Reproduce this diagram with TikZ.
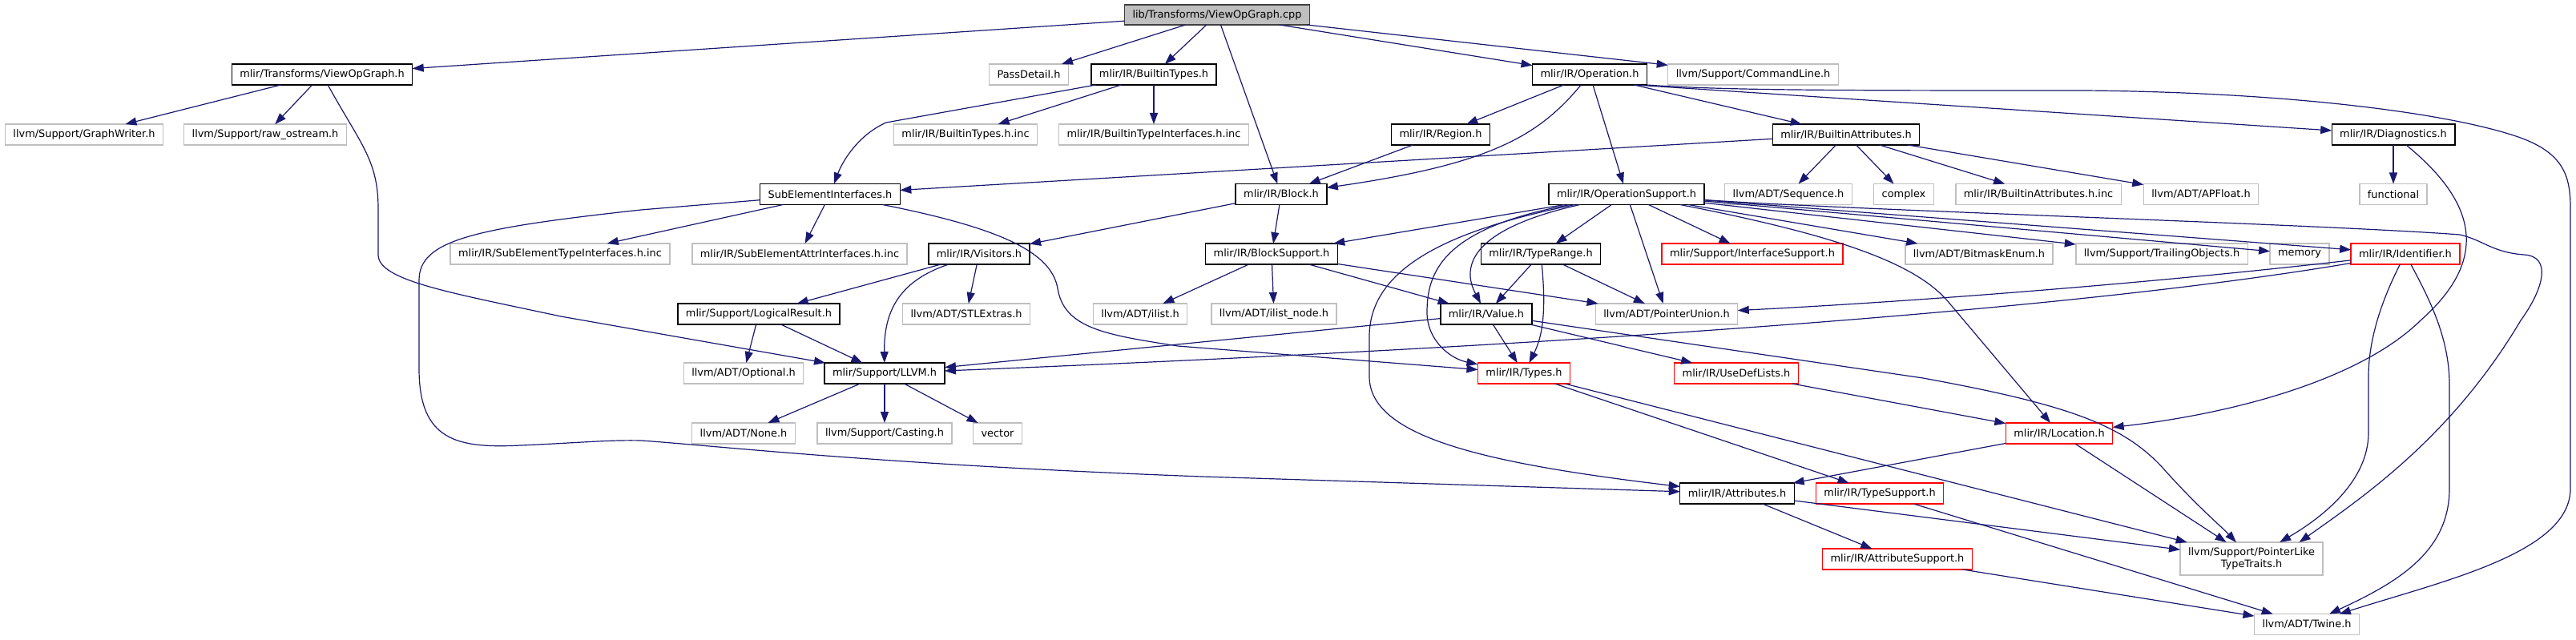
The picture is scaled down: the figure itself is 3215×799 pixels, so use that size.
\documentclass[tikz,border=0pt]{standalone}
\usepackage{fontspec}
\setmainfont{DejaVu Sans}
\usetikzlibrary{arrows.meta}
\definecolor{edgeblue}{HTML}{191970}
\definecolor{extgray}{HTML}{BFBFBF}

\begin{document}
\begin{tikzpicture}[
    x=1pt, y=-1pt,
    every node/.style={font=\fontsize{12.9pt}{15pt}\selectfont, align=center},
    hdr/.style={rectangle, draw=black, line width=1.4pt, fill=white, minimum height=26pt, inner xsep=10pt, inner ysep=0pt, outer sep=0pt},
    doc/.style={hdr},
    ext/.style={hdr, draw=extgray},
    trunc/.style={hdr, draw=red},
    root/.style={hdr, draw=black!75, fill=extgray, minimum height=25pt},
    dep/.style={-{Triangle[length=14pt,width=10pt]}, draw=edgeblue, line width=1.2pt}
]
    \useasboundingbox (0,0) rectangle (3215,799);

    % rank 0 and 1
    \node (root) [root] at (1519,18.5) {lib/Transforms/ViewOpGraph.cpp};
    \node (vog) [doc] at (402,93) {mlir/Transforms/ViewOpGraph.h};
    \node (pass) [ext] at (1284,93) {PassDetail.h};
    \node (btypes) [doc] at (1440,93) {mlir/IR/BuiltinTypes.h};
    \node (op) [doc] at (1984,93) {mlir/IR/Operation.h};
    \node (cmdline) [ext] at (2188,93) {llvm/Support/CommandLine.h};

    % rank 2
    \node (gwriter) [ext] at (105,168) {llvm/Support/GraphWriter.h};
    \node (rawos) [ext] at (331,168) {llvm/Support/raw\_ostream.h};
    \node (btinc) [ext] at (1205,168) {mlir/IR/BuiltinTypes.h.inc};
    \node (btiinc) [ext] at (1440,168) {mlir/IR/BuiltinTypeInterfaces.h.inc};
    \node (region) [doc] at (1798,168) {mlir/IR/Region.h};
    \node (battr) [doc] at (2304,168) {mlir/IR/BuiltinAttributes.h};
    \node (diag) [doc] at (2987,168) {mlir/IR/Diagnostics.h};

    % rank 3
    \node (subel) [doc] at (1036,242.5) {SubElementInterfaces.h};
    \node (block) [doc] at (1599,242.5) {mlir/IR/Block.h};
    \node (opsup) [doc] at (2030,242.5) {mlir/IR/OperationSupport.h};
    \node (seq) [ext] at (2232,242.5) {llvm/ADT/Sequence.h};
    \node (complex) [ext] at (2376,242.5) {complex};
    \node (bainc) [ext] at (2544,242.5) {mlir/IR/BuiltinAttributes.h.inc};
    \node (apfloat) [ext] at (2747,242.5) {llvm/ADT/APFloat.h};
    \node (functional) [ext] at (2987,242.5) {functional};

    % rank 4
    \node (setinc) [ext] at (699,317) {mlir/IR/SubElementTypeInterfaces.h.inc};
    \node (seainc) [ext] at (998,317) {mlir/IR/SubElementAttrInterfaces.h.inc};
    \node (visitors) [doc] at (1222,317) {mlir/IR/Visitors.h};
    \node (blksup) [doc] at (1587,317) {mlir/IR/BlockSupport.h};
    \node (trange) [doc] at (1923,317) {mlir/IR/TypeRange.h};
    \node (ifsup) [trunc] at (2187,317) {mlir/Support/InterfaceSupport.h};
    \node (bitmask) [ext] at (2470,317) {llvm/ADT/BitmaskEnum.h};
    \node (trailing) [ext] at (2698,317) {llvm/Support/TrailingObjects.h};
    \node (memory) [ext] at (2870,317) {memory};
    \node (ident) [trunc] at (3002,317) {mlir/IR/Identifier.h};

    % rank 5
    \node (logres) [doc] at (947,392) {mlir/Support/LogicalResult.h};
    \node (stl) [ext] at (1206,392) {llvm/ADT/STLExtras.h};
    \node (ilist) [ext] at (1423,392) {llvm/ADT/ilist.h};
    \node (ilnode) [ext] at (1590,392) {llvm/ADT/ilist\_node.h};
    \node (value) [doc] at (1855,392) {mlir/IR/Value.h};
    \node (punion) [ext] at (2080,392) {llvm/ADT/PointerUnion.h};

    % rank 6 and below
    \node (optional) [ext] at (928,466) {llvm/ADT/Optional.h};
    \node (llvmh) [doc] at (1104,466) {mlir/Support/LLVM.h};
    \node (types) [trunc] at (1902,466) {mlir/IR/Types.h};
    \node (usedef) [trunc] at (2167,466) {mlir/IR/UseDefLists.h};
    \node (none) [ext] at (928,541) {llvm/ADT/None.h};
    \node (casting) [ext] at (1104,541) {llvm/Support/Casting.h};
    \node (vector) [ext] at (1245,541) {vector};
    \node (location) [trunc] at (2570,541) {mlir/IR/Location.h};
    \node (attrs) [doc] at (2168,616) {mlir/IR/Attributes.h};
    \node (tsup) [trunc] at (2346,616) {mlir/IR/TypeSupport.h};
    \node (asup) [trunc] at (2368,698) {mlir/IR/AttributeSupport.h};
    \node (ptrlike) [ext, minimum height=41pt] at (2810,697.5) {llvm/Support/PointerLike\\TypeTraits.h};
    \node (twine) [ext] at (2879,779.5) {llvm/ADT/Twine.h};

    % straight includes
    \draw [dep] (root) -- (vog);
    \draw [dep] (root) -- (pass);
    \draw [dep] (root) -- (btypes);
    \draw [dep] (root) -- (block);
    \draw [dep] (root) -- (op);
    \draw [dep] (root) -- (cmdline);
    \draw [dep] (vog) -- (gwriter);
    \draw [dep] (vog) -- (rawos);
    \draw [dep] (btypes) -- (btinc);
    \draw [dep] (btypes) -- (btiinc);
    \draw [dep] (op) -- (region);
    \draw [dep] (op) -- (opsup);
    \draw [dep] (op) -- (battr);
    \draw [dep] (op.-13) -- (diag);
    \draw [dep] (region) -- (block);
    \draw [dep] (battr) -- (subel);
    \draw [dep] (battr) -- (seq);
    \draw [dep] (battr) -- (complex);
    \draw [dep] (battr) -- (bainc);
    \draw [dep] (battr) -- (apfloat);
    \draw [dep] (diag) -- (functional);
    \draw [dep] (subel) -- (setinc);
    \draw [dep] (subel) -- (seainc);
    \draw [dep] (block) -- (visitors);
    \draw [dep] (block) -- (blksup);
    \draw [dep] (opsup) -- (blksup);
    \draw [dep] (opsup) -- (trange);
    \draw [dep] (opsup) -- (punion);
    \draw [dep] (opsup) -- (ifsup);
    \draw [dep] (opsup) -- (bitmask);
    \draw [dep] (opsup) -- (trailing);
    \draw [dep] (opsup) -- (memory);
    \draw [dep] (opsup) -- (ident);
    \draw [dep] (visitors) -- (logres);
    \draw [dep] (visitors) -- (stl);
    \draw [dep] (blksup) -- (ilist);
    \draw [dep] (blksup) -- (ilnode);
    \draw [dep] (blksup) -- (value);
    \draw [dep] (blksup) -- (punion);
    \draw [dep] (trange) -- (value);
    \draw [dep] (trange) -- (punion);
    \draw [dep] (logres) -- (optional);
    \draw [dep] (logres) -- (llvmh);
    \draw [dep] (value) -- (llvmh);
    \draw [dep] (value) -- (types);
    \draw [dep] (value) -- (usedef);
    \draw [dep] (llvmh) -- (none);
    \draw [dep] (llvmh) -- (casting);
    \draw [dep] (llvmh) -- (vector);
    \draw [dep] (types) -- (tsup);
    \draw [dep] (types) -- (ptrlike);
    \draw [dep] (usedef) -- (location);
    \draw [dep] (location) -- (attrs);
    \draw [dep] (location) -- (ptrlike);
    \draw [dep] (attrs) -- (ptrlike);
    \draw [dep] (attrs) -- (asup);
    \draw [dep] (tsup) -- (twine);
    \draw [dep] (asup) -- (twine);

    % routed includes
    \draw [dep] (vog) .. controls (450,180) and (472,200) .. (472,260) -- (472,318) .. controls (472,350) and (560,365) .. (700,395) -- (llvmh);
    \draw [dep] (btypes) -- (1106,153) .. controls (1072,168) and (1052,200) .. (subel);
    \draw [dep] (subel) .. controls (1250,285) and (1312,315) .. (1320,360) .. controls (1328,410) and (1380,418) .. (1470,432) -- (types);
    \draw [dep] (subel) -- (800,262) .. controls (590,285) and (523,300) .. (523,350) -- (523,460) .. controls (523,550) and (570,560) .. (650,556) .. controls (720,553) and (760,549) .. (800,550) .. controls (900,557) and (1100,580) .. (1500,595) -- (attrs);
    \draw [dep] (visitors) .. controls (1125,350) and (1103,385) .. (llvmh);
    \draw [dep] (op) .. controls (1920,170) and (1860,205) .. (block);
    \draw [dep] (op.south east) .. controls (2150,113) and (2300,113) .. (2600,113) .. controls (2850,115) and (3050,140) .. (3140,170) .. controls (3200,190) and (3208,220) .. (3208,260) -- (3208,610) .. controls (3208,690) and (3050,725) .. (twine);
    \draw [dep] (diag) .. controls (3100,260) and (3100,330) .. (3021,400) .. controls (2950,470) and (2800,515) .. (location);
    \draw [dep] (opsup) .. controls (1820,285) and (1709,330) .. (1709,420) -- (1709,470) .. controls (1709,545) and (1850,578) .. (attrs);
    \draw [dep] (opsup) .. controls (1800,285) and (1781,340) .. (1781,390) .. controls (1781,425) and (1810,448) .. (types);
    \draw [dep] (opsup) .. controls (1840,285) and (1822,330) .. (value);
    \draw [dep] (trange) .. controls (1930,390) and (1925,420) .. (types);
    \draw [dep] (opsup) .. controls (2300,262) and (2900,280) .. (3070,293) .. controls (3100,300) and (3110,315) .. (3150,318) .. controls (3185,320) and (3175,360) .. (3146,400) .. controls (3060,545) and (2950,620) .. (ptrlike.19);
    \draw [dep] (opsup) .. controls (2300,295) and (2390,330) .. (2430,375) -- (location);
    \draw [dep] (ident) .. controls (2975,370) and (2956,420) .. (2956,470) -- (2956,540) .. controls (2956,600) and (2900,645) .. (ptrlike);
    \draw [dep] (ident) .. controls (3030,370) and (3057,420) .. (3057,480) -- (3057,610) .. controls (3057,690) and (2990,728) .. (twine);
    \draw [dep] (value) -- (2400,472) .. controls (2580,505) and (2650,530) .. (2700,585) .. controls (2740,630) and (2775,660) .. (ptrlike);
    \draw [dep] (ident) .. controls (2600,385) and (2000,430) .. (llvmh);
    \draw [dep] (ident) .. controls (2700,352) and (2400,376) .. (punion);
\end{tikzpicture}
\end{document}
